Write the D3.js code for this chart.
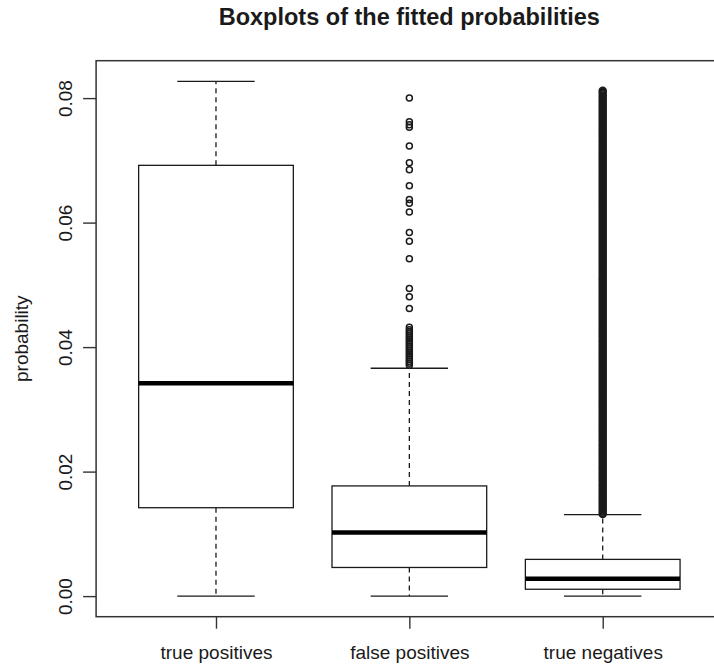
<!DOCTYPE html>
<html><head><meta charset="utf-8">
<script src="https://cdn.jsdelivr.net/npm/d3@7"></script>
<style>body{margin:0;background:#fff}svg{display:block}</style>
</head><body>
<svg id="c" width="714" height="666"></svg>
<script>
// ---- data ----
const categories = ["true positives", "false positives", "true negatives"];
const lowerWhisker = [0.0000, 0.0000, 0.0000];
const q1 = [0.0142, 0.0046, 0.0011];
const median = [0.0342, 0.0102, 0.0028];
const q3 = [0.0692, 0.0177, 0.0059];
const upperWhisker = [0.0827, 0.0366, 0.0131];
const outliersTP = [];
const outliersFP = [0.0800, 0.0762, 0.0757, 0.0753, 0.0723, 0.0696, 0.0685, 0.0659, 0.0637, 0.0631,
  0.0617, 0.0584, 0.0570, 0.0542, 0.0494, 0.0481, 0.0462, 0.0432, 0.0428, 0.0425, 0.0422, 0.0419,
  0.0416, 0.0413, 0.0410, 0.0407, 0.0404, 0.0401, 0.0398, 0.0395, 0.0392, 0.0389, 0.0386, 0.0383,
  0.0380, 0.0377, 0.0374, 0.0371];
const outliersTN = [
  0.0132,0.0136,0.0140,0.0144,0.0148,0.0152,0.0156,0.0160,0.0164,0.0168,
  0.0172,0.0176,0.0180,0.0184,0.0188,0.0192,0.0196,0.0200,0.0204,0.0208,
  0.0212,0.0216,0.0220,0.0224,0.0228,0.0232,0.0236,0.0240,0.0244,0.0248,
  0.0252,0.0256,0.0260,0.0264,0.0268,0.0272,0.0276,0.0280,0.0284,0.0288,
  0.0292,0.0296,0.0300,0.0304,0.0308,0.0312,0.0316,0.0320,0.0324,0.0328,
  0.0332,0.0336,0.0340,0.0344,0.0348,0.0352,0.0356,0.0360,0.0364,0.0368,
  0.0372,0.0376,0.0380,0.0384,0.0388,0.0392,0.0396,0.0400,0.0404,0.0408,
  0.0412,0.0416,0.0420,0.0424,0.0428,0.0432,0.0436,0.0440,0.0444,0.0448,
  0.0452,0.0456,0.0460,0.0464,0.0468,0.0472,0.0476,0.0480,0.0484,0.0488,
  0.0492,0.0496,0.0500,0.0504,0.0508,0.0512,0.0516,0.0520,0.0524,0.0528,
  0.0532,0.0536,0.0540,0.0544,0.0548,0.0552,0.0556,0.0560,0.0564,0.0568,
  0.0572,0.0576,0.0580,0.0584,0.0588,0.0592,0.0596,0.0600,0.0604,0.0608,
  0.0612,0.0616,0.0620,0.0624,0.0628,0.0632,0.0636,0.0640,0.0644,0.0648,
  0.0652,0.0656,0.0660,0.0664,0.0668,0.0672,0.0676,0.0680,0.0684,0.0688,
  0.0692,0.0696,0.0700,0.0704,0.0708,0.0712,0.0716,0.0720,0.0724,0.0728,
  0.0732,0.0736,0.0740,0.0744,0.0748,0.0752,0.0756,0.0760,0.0764,0.0768,
  0.0772,0.0776,0.0780,0.0784,0.0788,0.0792,0.0796,0.0800,0.0804,0.0808,
  0.0812];
const outliers = [outliersTP, outliersFP, outliersTN];
const yTicks = [0.00, 0.02, 0.04, 0.06, 0.08];
const titleText = "Boxplots of the fitted probabilities";
const yLabel = "probability";

// ---- layout ----
const W = 714, H = 666;
const mLeft = 96.1, mRight = 722.6, mTop = 60.7, mBottom = 616.7;
const FONT = "'Liberation Sans', Arial, Helvetica, sans-serif";
const INK = "#1a1a1a";
const outlierStroke = [1.5, 1.5, 2.5];

const svg = d3.select("#c");
svg.append("rect").attr("width", W).attr("height", H).attr("fill", "#fff");

const n = categories.length;
const x = d3.scaleLinear().domain([0.5 - 0.04 * n, n + 0.5 + 0.04 * n]).range([mLeft, mRight]);
const allVals = [].concat(lowerWhisker, upperWhisker, ...outliers);
const lo = d3.min(allVals), hi = d3.max(allVals), pad = 0.04 * (hi - lo);
const y = d3.scaleLinear().domain([lo - pad, hi + pad]).range([mBottom, mTop]);

const boxHalf = (x(1.4) - x(1)), stapleHalf = boxHalf / 2;

const data = categories.map((c, i) => ({
  c, i, pos: i + 1, lw: lowerWhisker[i], q1: q1[i], med: median[i], q3: q3[i], uw: upperWhisker[i], out: outliers[i]
}));

const g = svg.append("g");
const grp = g.selectAll("g.box").data(data).join("g").attr("class", "box");

// whiskers (dashed)
grp.append("line")
  .attr("x1", d => x(d.pos)).attr("x2", d => x(d.pos))
  .attr("y1", d => y(d.q3)).attr("y2", d => y(d.uw))
  .attr("stroke", INK).attr("stroke-width", 1.3).attr("stroke-dasharray", "5,4");
grp.append("line")
  .attr("x1", d => x(d.pos)).attr("x2", d => x(d.pos))
  .attr("y1", d => y(d.q1)).attr("y2", d => y(d.lw))
  .attr("stroke", INK).attr("stroke-width", 1.3).attr("stroke-dasharray", "5,4");
// staples
["uw", "lw"].forEach(k => {
  grp.append("line")
    .attr("x1", d => x(d.pos) - stapleHalf).attr("x2", d => x(d.pos) + stapleHalf)
    .attr("y1", d => y(d[k])).attr("y2", d => y(d[k]))
    .attr("stroke", INK).attr("stroke-width", 1.3);
});
// boxes
grp.append("rect")
  .attr("x", d => x(d.pos) - boxHalf).attr("width", 2 * boxHalf)
  .attr("y", d => y(d.q3)).attr("height", d => y(d.q1) - y(d.q3))
  .attr("fill", "#fff").attr("stroke", INK).attr("stroke-width", 1.3);
// medians
grp.append("line")
  .attr("x1", d => x(d.pos) - boxHalf).attr("x2", d => x(d.pos) + boxHalf)
  .attr("y1", d => y(d.med)).attr("y2", d => y(d.med))
  .attr("stroke", "#000").attr("stroke-width", 4.5);
// outliers
grp.selectAll("circle").data(d => d.out.map(v => ({ v, pos: d.pos, i: d.i }))).join("circle")
  .attr("cx", d => x(d.pos)).attr("cy", d => y(d.v)).attr("r", 3)
  .attr("fill", "none").attr("stroke", INK).attr("stroke-width", d => outlierStroke[d.i]);

// frame
svg.append("rect").attr("x", mLeft).attr("y", mTop)
  .attr("width", mRight - mLeft).attr("height", mBottom - mTop)
  .attr("fill", "none").attr("stroke", "#333").attr("stroke-width", 1.5);

// y axis
const ya = svg.append("g").attr("transform", `translate(${mLeft},0)`)
  .call(d3.axisLeft(y).tickValues(yTicks).tickFormat(d3.format(".2f")).tickSize(13).tickSizeOuter(0));
ya.select(".domain").remove();
ya.selectAll(".tick line").attr("stroke", "#333").attr("stroke-width", 1.4);
ya.selectAll(".tick text")
  .attr("x", 0).attr("dy", 0).attr("y", 0)
  .attr("text-anchor", "middle")
  .attr("transform", `translate(${72 - mLeft},0) rotate(-90)`)
  .attr("font-family", FONT).attr("font-size", 19).attr("fill", INK);

// x axis
const xa = svg.append("g").attr("transform", `translate(0,${mBottom})`)
  .call(d3.axisBottom(x).tickValues(data.map(d => d.pos)).tickFormat(d => categories[d - 1]).tickSize(12).tickSizeOuter(0));
xa.select(".domain").remove();
xa.selectAll(".tick line").attr("stroke", "#333").attr("stroke-width", 1.4);
xa.selectAll(".tick text")
  .attr("y", 0).attr("dy", 0).attr("transform", `translate(0,${659 - mBottom})`)
  .attr("font-family", FONT).attr("font-size", 19).attr("fill", INK);

// y label
svg.append("text")
  .attr("transform", `translate(28,${(mTop + mBottom) / 2}) rotate(-90)`)
  .attr("text-anchor", "middle")
  .attr("font-family", FONT).attr("font-size", 19).attr("fill", INK)
  .text(yLabel);

// title
svg.append("text")
  .attr("x", (mLeft + mRight) / 2).attr("y", 25)
  .attr("text-anchor", "middle")
  .attr("font-family", FONT).attr("font-size", 23.5).attr("font-weight", "bold").attr("fill", INK)
  .text(titleText);
</script>
</body></html>
